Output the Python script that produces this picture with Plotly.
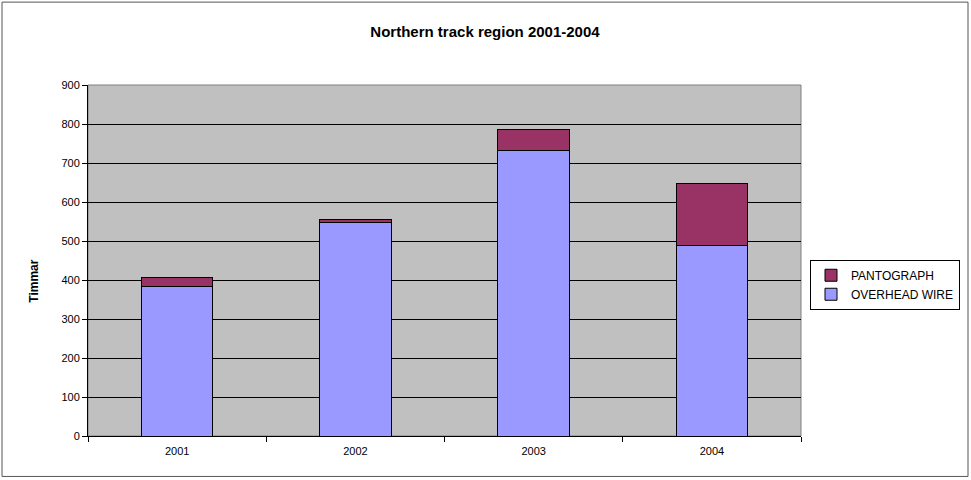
import plotly.graph_objects as go

years = ["2001", "2002", "2003", "2004"]
overhead_wire = [384, 548, 733, 488]
pantograph = [23, 8, 52, 160]
y_ticks = [0, 100, 200, 300, 400, 500, 600, 700, 800, 900]

fig = go.Figure()
fig.add_trace(go.Bar(
    x=years, y=overhead_wire, name="OVERHEAD WIRE",
    marker=dict(color="#9999FF", line=dict(color="black", width=1)),
))
fig.add_trace(go.Bar(
    x=years, y=pantograph, name="PANTOGRAPH",
    marker=dict(color="#993366", line=dict(color="black", width=1)),
))

L, R, T, B = 88, 170, 85, 43.5
W, H = 971, 480
pw = W - L - R
ph = H - T - B

def px_x(x):
    return (x - L) / pw

def px_y(y):
    return (H - B - y) / ph

fig.update_layout(
    width=W, height=H,
    margin=dict(l=L, r=R, t=T, b=B, autoexpand=False),
    barmode="stack",
    bargap=0.6,
    paper_bgcolor="white",
    plot_bgcolor="#C0C0C0",
    font=dict(family="Arial, Liberation Sans", size=11, color="black"),
    title=dict(text="<b>Northern track region 2001-2004</b>", x=485 / W,
               xanchor="center", y=1 - 32 / H, yanchor="middle",
               font=dict(size=15, family="Arial, Liberation Sans", color="black")),
    showlegend=True,
    legend=dict(
        x=px_x(810), y=px_y(260), xanchor="left", yanchor="top",
        traceorder="reversed",
        bordercolor="black", borderwidth=1, bgcolor="white",
        font=dict(size=12), itemwidth=30,
        tracegroupgap=0,
    ),
    xaxis=dict(
        showline=True, linecolor="black", linewidth=1,
        ticks="outside", ticklen=5, tickcolor="black",
        tickson="boundaries",
        showgrid=False,
        tickfont=dict(size=11),
        ticklabelstandoff=5,
    ),
    yaxis=dict(
        range=[0, 900], tickvals=y_ticks,
        showline=True, linecolor="black", linewidth=1,
        ticks="outside", ticklen=5, tickcolor="black",
        showgrid=True, gridcolor="black", gridwidth=1,
        zeroline=False,
        tickfont=dict(size=11),
    ),
    annotations=[
        dict(text="<b>Timmar</b>", xref="paper", yref="paper",
             x=px_x(34), y=px_y(282), xanchor="center", yanchor="middle",
             textangle=-90, showarrow=False, font=dict(size=12)),
    ],
    shapes=[
        dict(type="rect", xref="paper", yref="paper",
             x0=0, x1=1, y0=0, y1=1,
             line=dict(color="#808080", width=1), layer="below"),
        dict(type="rect", xref="paper", yref="paper",
             x0=px_x(2), x1=px_x(968), y0=px_y(2), y1=px_y(477),
             line=dict(color="#555555", width=1)),
    ],
)

fig.write_html("out.html", config={"displayModeBar": False},
               post_script="document.body.style.margin='0';")
